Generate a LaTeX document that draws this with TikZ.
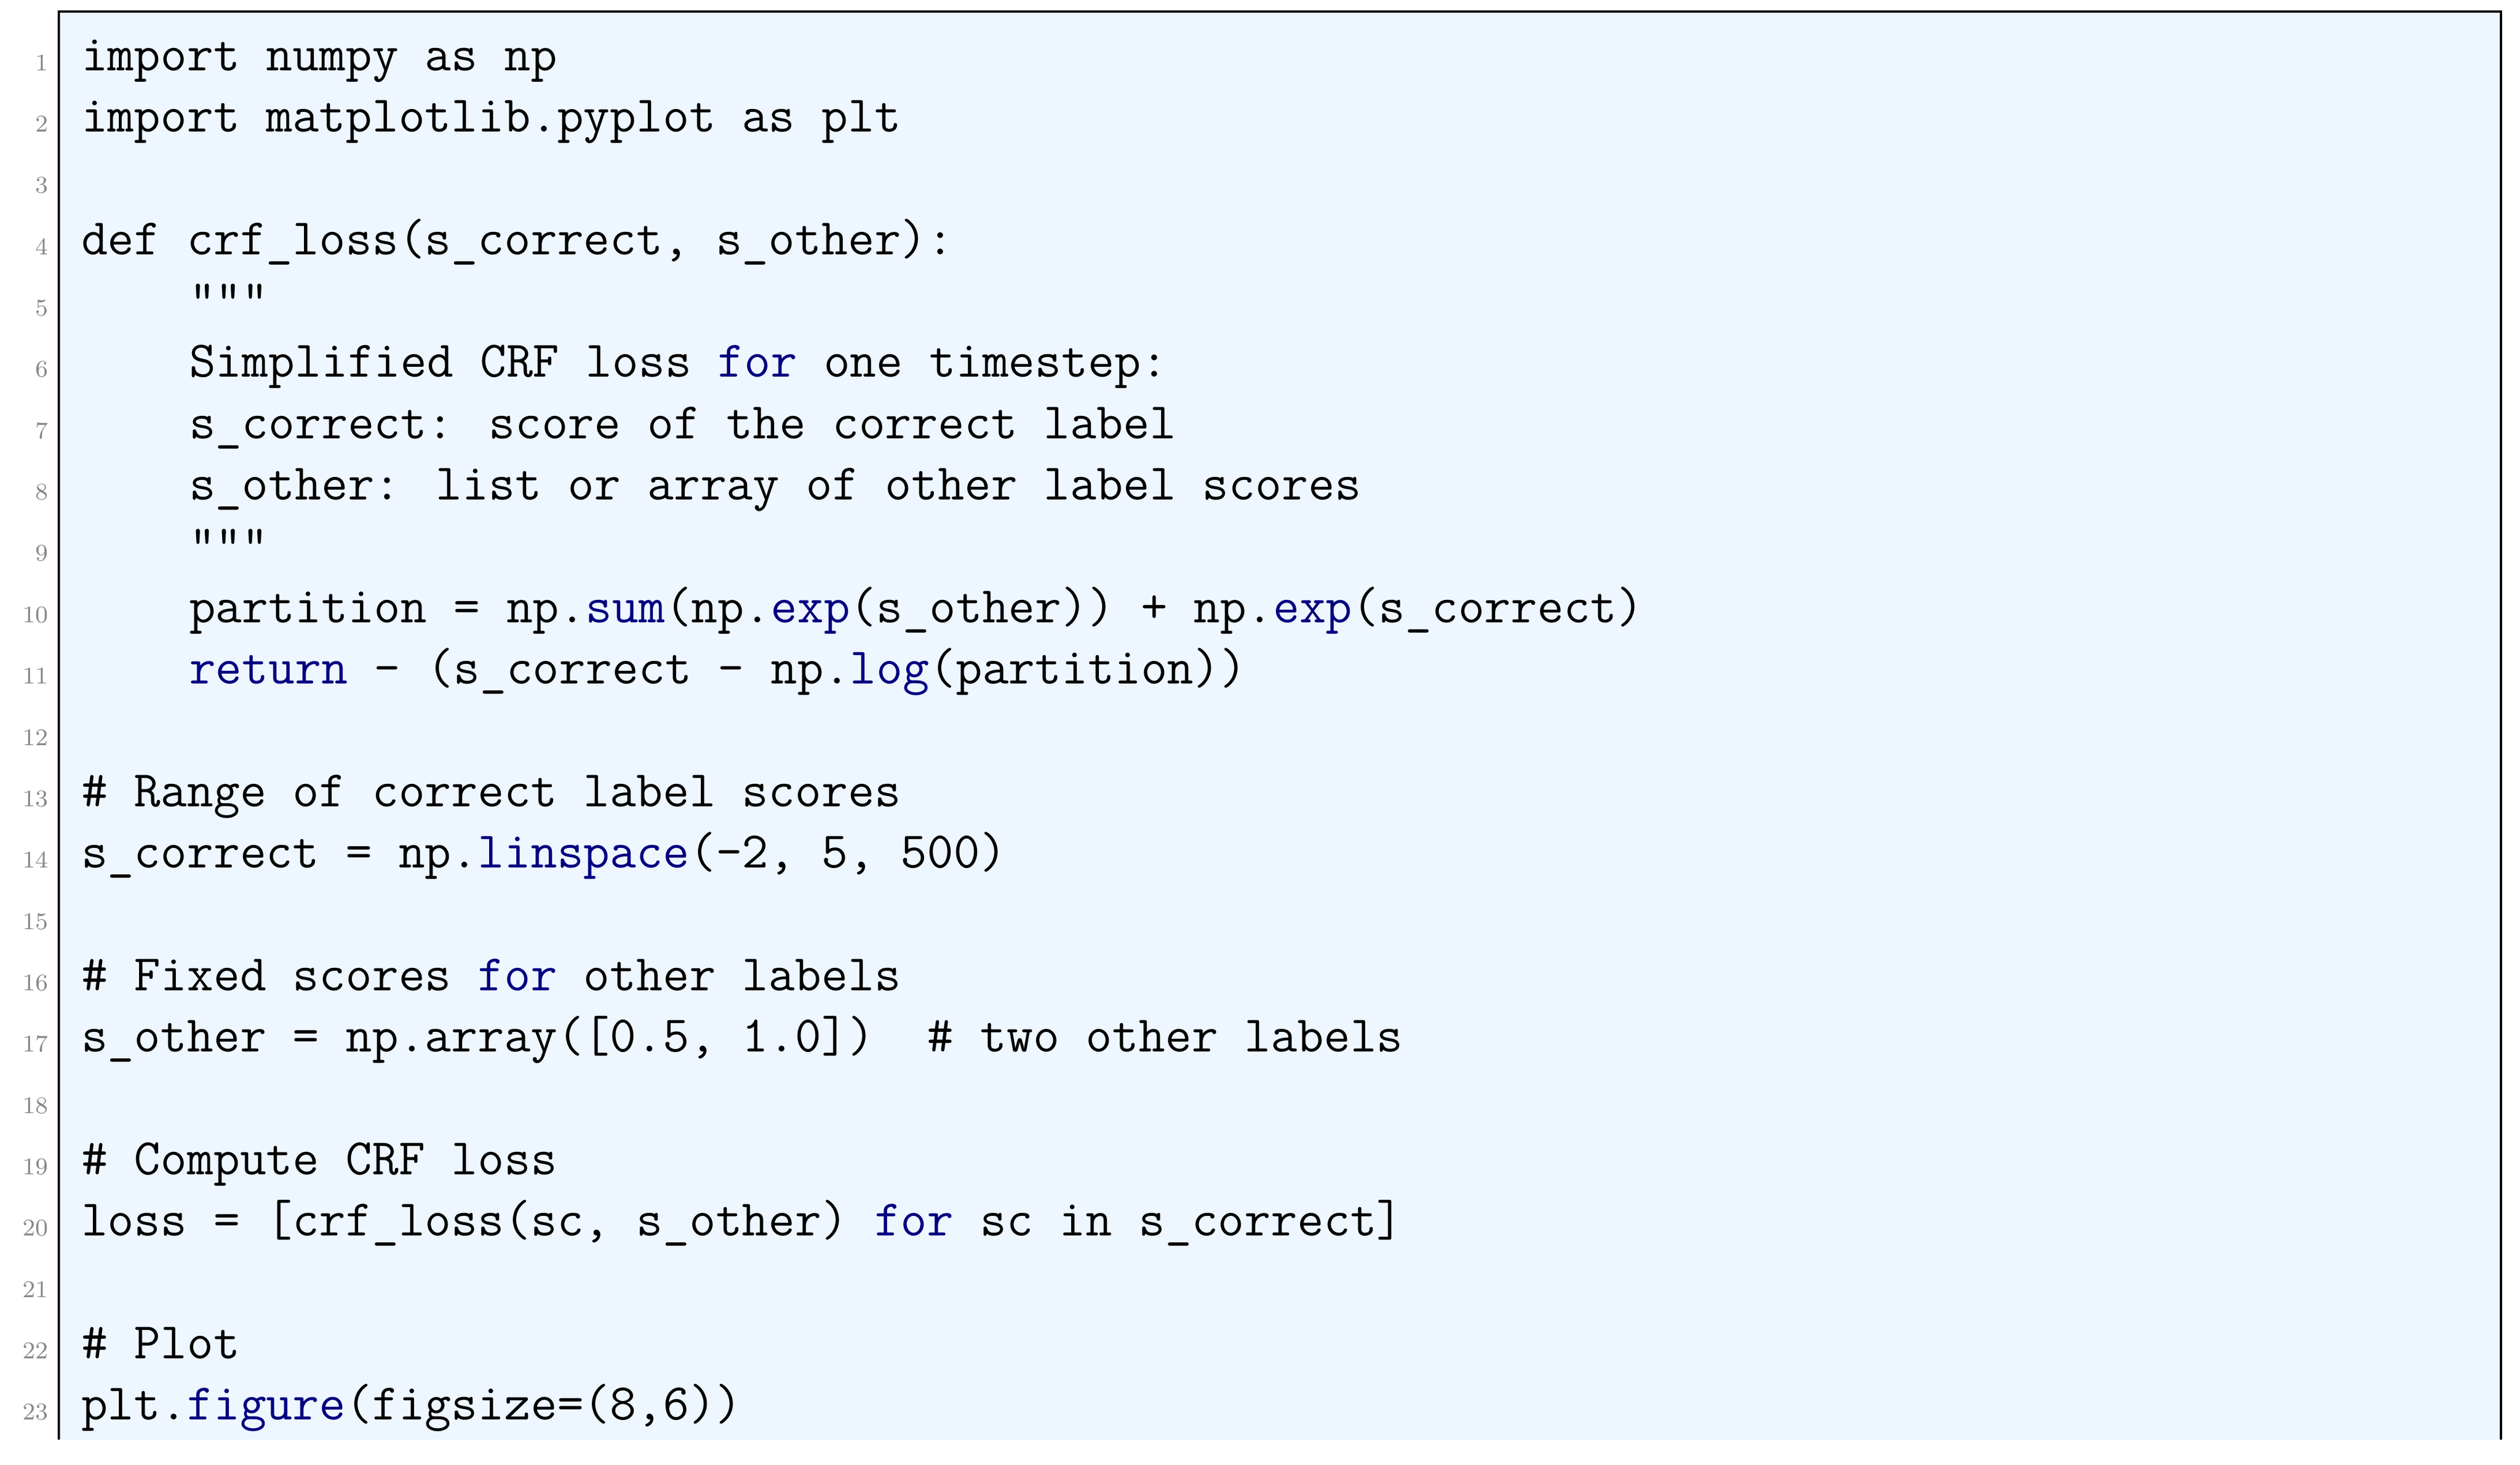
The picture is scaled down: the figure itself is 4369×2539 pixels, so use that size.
\documentclass[tikz,border=0pt]{standalone}
\usepackage{fontspec}
\definecolor{bgc}{HTML}{EEF6FF}
\definecolor{kwc}{HTML}{000080}
\definecolor{lnc}{HTML}{888888}
\newcommand{\kw}[1]{\textcolor{kwc}{#1}}
\tikzset{
  codeline/.style={anchor=base west,inner sep=0pt,font=\ttfamily\fontsize{17.8}{21}\selectfont},
  lnum/.style={anchor=base east,inner sep=0pt,text=lnc,font=\rmfamily\fontsize{8.3}{10}\selectfont}
}
\begin{document}
\begin{tikzpicture}[x=0.2pt,y=-0.2pt]
\useasboundingbox (0,0) rectangle (4369,2539);
\fill[bgc] (102,20) rectangle (4336,2496);
\draw[line width=0.8pt] (102,2496) -- (102,20) -- (4336,20) -- (4336,2496);
\foreach \n in {1,...,23}{
  \node[lnum] (ln\n) at (85,{122+(\n-1)*106.36}) {\n};
}
\def\ind{327}
\node[codeline] (c1) at (140,122) {import numpy as np};
\node[codeline] (c2) at (140,228.4) {import matplotlib.pyplot as plt};
\node[codeline] (c4) at (140,441.1) {def crf\_loss(s\_correct, s\_other):};
\node[codeline] (c5) at (\ind,547.4) {"""};
\node[codeline] (c6) at (\ind,653.8) {Simplified CRF loss \kw{for} one timestep:};
\node[codeline] (c7) at (\ind,760.2) {s\_correct: score of the correct label};
\node[codeline] (c8) at (\ind,866.5) {s\_other: list or array of other label scores};
\node[codeline] (c9) at (\ind,972.9) {"""};
\node[codeline] (c10) at (\ind,1079.2) {partition = np.\kw{sum}(np.\kw{exp}(s\_other)) + np.\kw{exp}(s\_correct)};
\node[codeline] (c11) at (\ind,1185.6) {\kw{return} - (s\_correct - np.\kw{log}(partition))};
\node[codeline] (c13) at (140,1398.3) {\# Range of correct label scores};
\node[codeline] (c14) at (140,1504.7) {s\_correct = np.\kw{linspace}(-2, 5, 500)};
\node[codeline] (c16) at (140,1717.4) {\# Fixed scores \kw{for} other labels};
\node[codeline] (c17) at (140,1823.7) {s\_other = np.array([0.5, 1.0])\ \ \# two other labels};
\node[codeline] (c19) at (140,2036.4) {\# Compute CRF loss};
\node[codeline] (c20) at (140,2142.8) {loss = [crf\_loss(sc, s\_other) \kw{for} sc in s\_correct]};
\node[codeline] (c22) at (140,2355.5) {\# Plot};
\node[codeline] (c23) at (140,2461.9) {plt.\kw{figure}(figsize=(8,6))};
\end{tikzpicture}
\end{document}
